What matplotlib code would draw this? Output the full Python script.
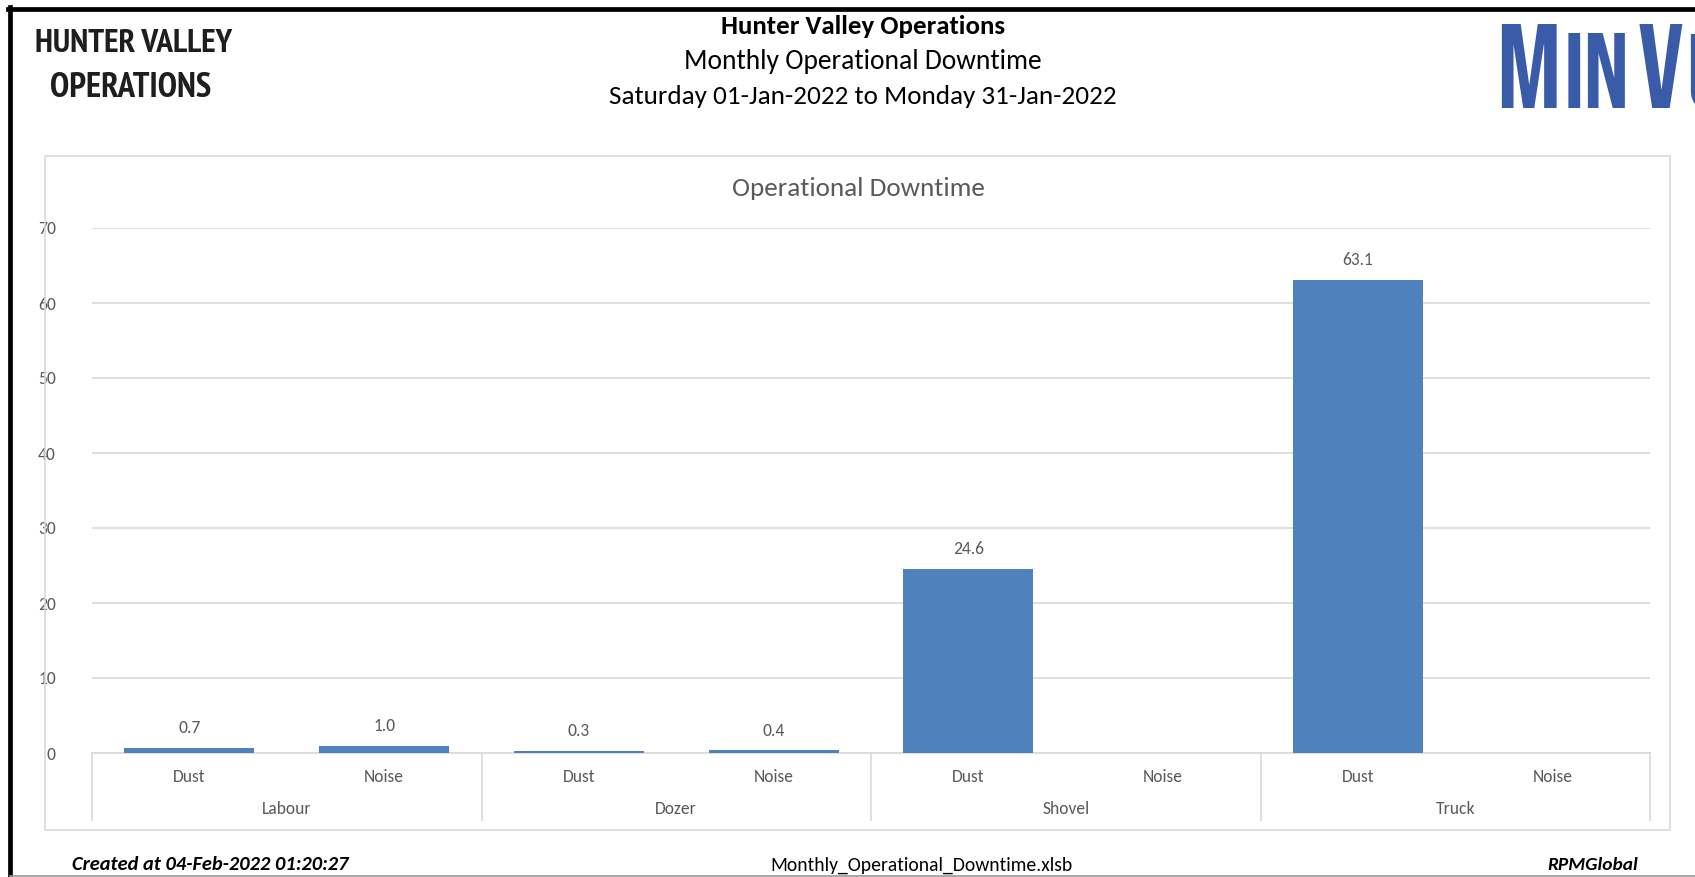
import matplotlib
matplotlib.use("Agg")
import logging
logging.getLogger("matplotlib.font_manager").setLevel(logging.ERROR)
import matplotlib.pyplot as plt
import numpy as np
from matplotlib.lines import Line2D
from matplotlib.patches import Rectangle
from matplotlib.transforms import blended_transform_factory
from matplotlib.textpath import TextPath
from matplotlib.font_manager import FontProperties

groups = ["Labour", "Dozer", "Shovel", "Truck"]
subcats = ["Dust", "Noise"]
values = [0.7, 1.0, 0.3, 0.4, 24.6, None, 63.1, None]
yticks = [0, 10, 20, 30, 40, 50, 60, 70]

W, H = 1695, 877
MAIN = ['Carlito', 'Lato', 'DejaVu Sans']
NARROW = ['PT Sans Narrow', 'Pragati Narrow', 'IBM Plex Sans Condensed', 'DejaVu Sans']
LOGO = ['Bebas Neue', 'Anton', 'Fjalla One', 'IBM Plex Sans Condensed', 'DejaVu Sans']
plt.rcParams['font.family'] = MAIN

fig = plt.figure(figsize=(W / 100, H / 100), dpi=100)


def fx(x):
    return x / W


def fy(y):
    return 1 - y / H


def extents(s, family, weight="normal", style="normal"):
    fp = FontProperties(family=family, weight=weight, style=style)
    return TextPath((0, 0), s, size=100, prop=fp).get_extents()


def fit(s, target_px, family, weight="normal", style="normal", dim="w"):
    e = extents(s, family, weight, style)
    d = e.width if dim == "w" else e.height
    return target_px * 72 / 100 * 100 / d


def ftext(x, y, s, width, family=MAIN, weight="normal", style="normal", color="black",
          ha="center", va="center", dim="w"):
    size = fit(s, width, family, weight, style, dim)
    fig.text(fx(x), fy(y), s, ha=ha, va=va, fontsize=size, fontweight=weight,
             fontstyle=style, color=color, family=family)


GREY = "#595959"
BAR = "#4F81BD"
GRID = "#D9D9D9"

# page borders
fig.add_artist(Line2D([fx(10), fx(10)], [fy(7), 0], color="black", lw=3.4, transform=fig.transFigure))
fig.add_artist(Line2D([fx(8), 1], [fy(9), fy(9)], color="black", lw=3.4, transform=fig.transFigure))
fig.add_artist(Line2D([fx(10), 1], [fy(875.5), fy(875.5)], color="#9a9a9a", lw=1.2, transform=fig.transFigure))

# chart box
fig.add_artist(Rectangle((fx(45), fy(830)), fx(1670) - fx(45), fy(156) - fy(830),
                         transform=fig.transFigure, fill=False, edgecolor=GRID, lw=1.2))

# header
ftext(863, 26, "Hunter Valley Operations", 282, weight="bold")
ftext(863, 62, "Monthly Operational Downtime", 354)
ftext(863, 96, "Saturday 01-Jan-2022 to Monday 31-Jan-2022", 505)

# left logo
ftext(134, 44, "HUNTER VALLEY", 196, family=NARROW, weight="bold", color="#1e1e1e")
ftext(131, 88, "OPERATIONS", 159, family=NARROW, weight="bold", color="#1e1e1e")

# MinVu logo: (letters, slot left, slot right, target height, centred in slot)
BLUE = "#3A5CA8"
for letter, xl, xr, hgt, centre in [("M", 1500, 1557, 84, True), ("IN", 1563, 1630, 75, True),
                                    ("V", 1634, 1686, 84, True), ("U", 1690, 1740, 75, False)]:
    e = extents(letter, LOGO, "bold")
    sw = (xr - xl) / e.width
    sh = hgt / e.height
    s = min(sh, np.sqrt(sw * sh))  # px per TextPath unit
    size = s * 72
    gw = e.width * s
    left = (xl + xr) / 2 - gw / 2 if centre else xl
    gx = left - e.x0 * s
    fig.text(fx(gx), fy(108), letter, ha="left", va="baseline", fontsize=size,
             fontweight="bold", color=BLUE, family=LOGO)

# footer
ftext(72, 865, "Created at 04-Feb-2022 01:20:27", 276, weight="bold", style="italic", ha="left")
ftext(922, 865, "Monthly_Operational_Downtime.xlsb", 299)
ftext(1638, 865, "RPMGlobal", 90, weight="bold", style="italic", ha="right")

# chart title
ftext(858, 188, "Operational Downtime", 250, color=GREY)

small = fit("Labour", 48, MAIN)

# axes
ax = fig.add_axes([fx(92), fy(753), fx(1650) - fx(92), fy(228) - fy(753)])
n = len(values)
x = np.arange(n)
vals = np.array([np.nan if v is None else v for v in values], dtype=float)
ax.bar(x, np.nan_to_num(vals), width=0.667, color=BAR, zorder=3)
ax.set_xlim(-0.5, n - 0.5)
ax.set_ylim(0, 70)
ax.set_yticks(yticks)
ax.yaxis.grid(True, color=GRID, lw=1.2, zorder=0)
ax.tick_params(axis="y", length=0, labelsize=small, labelcolor=GREY, pad=26)
ax.set_xticks([])
for s in ["top", "right", "left"]:
    ax.spines[s].set_visible(False)
ax.spines["bottom"].set_color(GRID)
ax.spines["bottom"].set_linewidth(1.2)

for xi, v in zip(x, values):
    if v is None:
        continue
    ax.annotate(f"{v:.1f}", (xi, v), xytext=(0, 14), textcoords="offset points",
                ha="center", va="center", fontsize=small, color=GREY)

trans = blended_transform_factory(ax.transData, ax.transAxes)
axh = 753 - 228
for i in range(n):
    ax.text(i, -(777 - 753) / axh, subcats[i % 2], transform=trans, ha="center", va="center",
            fontsize=small, color=GREY)
for g, name in enumerate(groups):
    ax.text(2 * g + 0.5, -(809 - 753) / axh, name, transform=trans, ha="center", va="center",
            fontsize=small, color=GREY)
for b in range(len(groups) + 1):
    ax.add_line(Line2D([2 * b - 0.5, 2 * b - 0.5], [0, -(820 - 753) / axh], transform=trans,
                       color=GRID, lw=1.2, clip_on=False))

fig.savefig("out.png", dpi=100)
